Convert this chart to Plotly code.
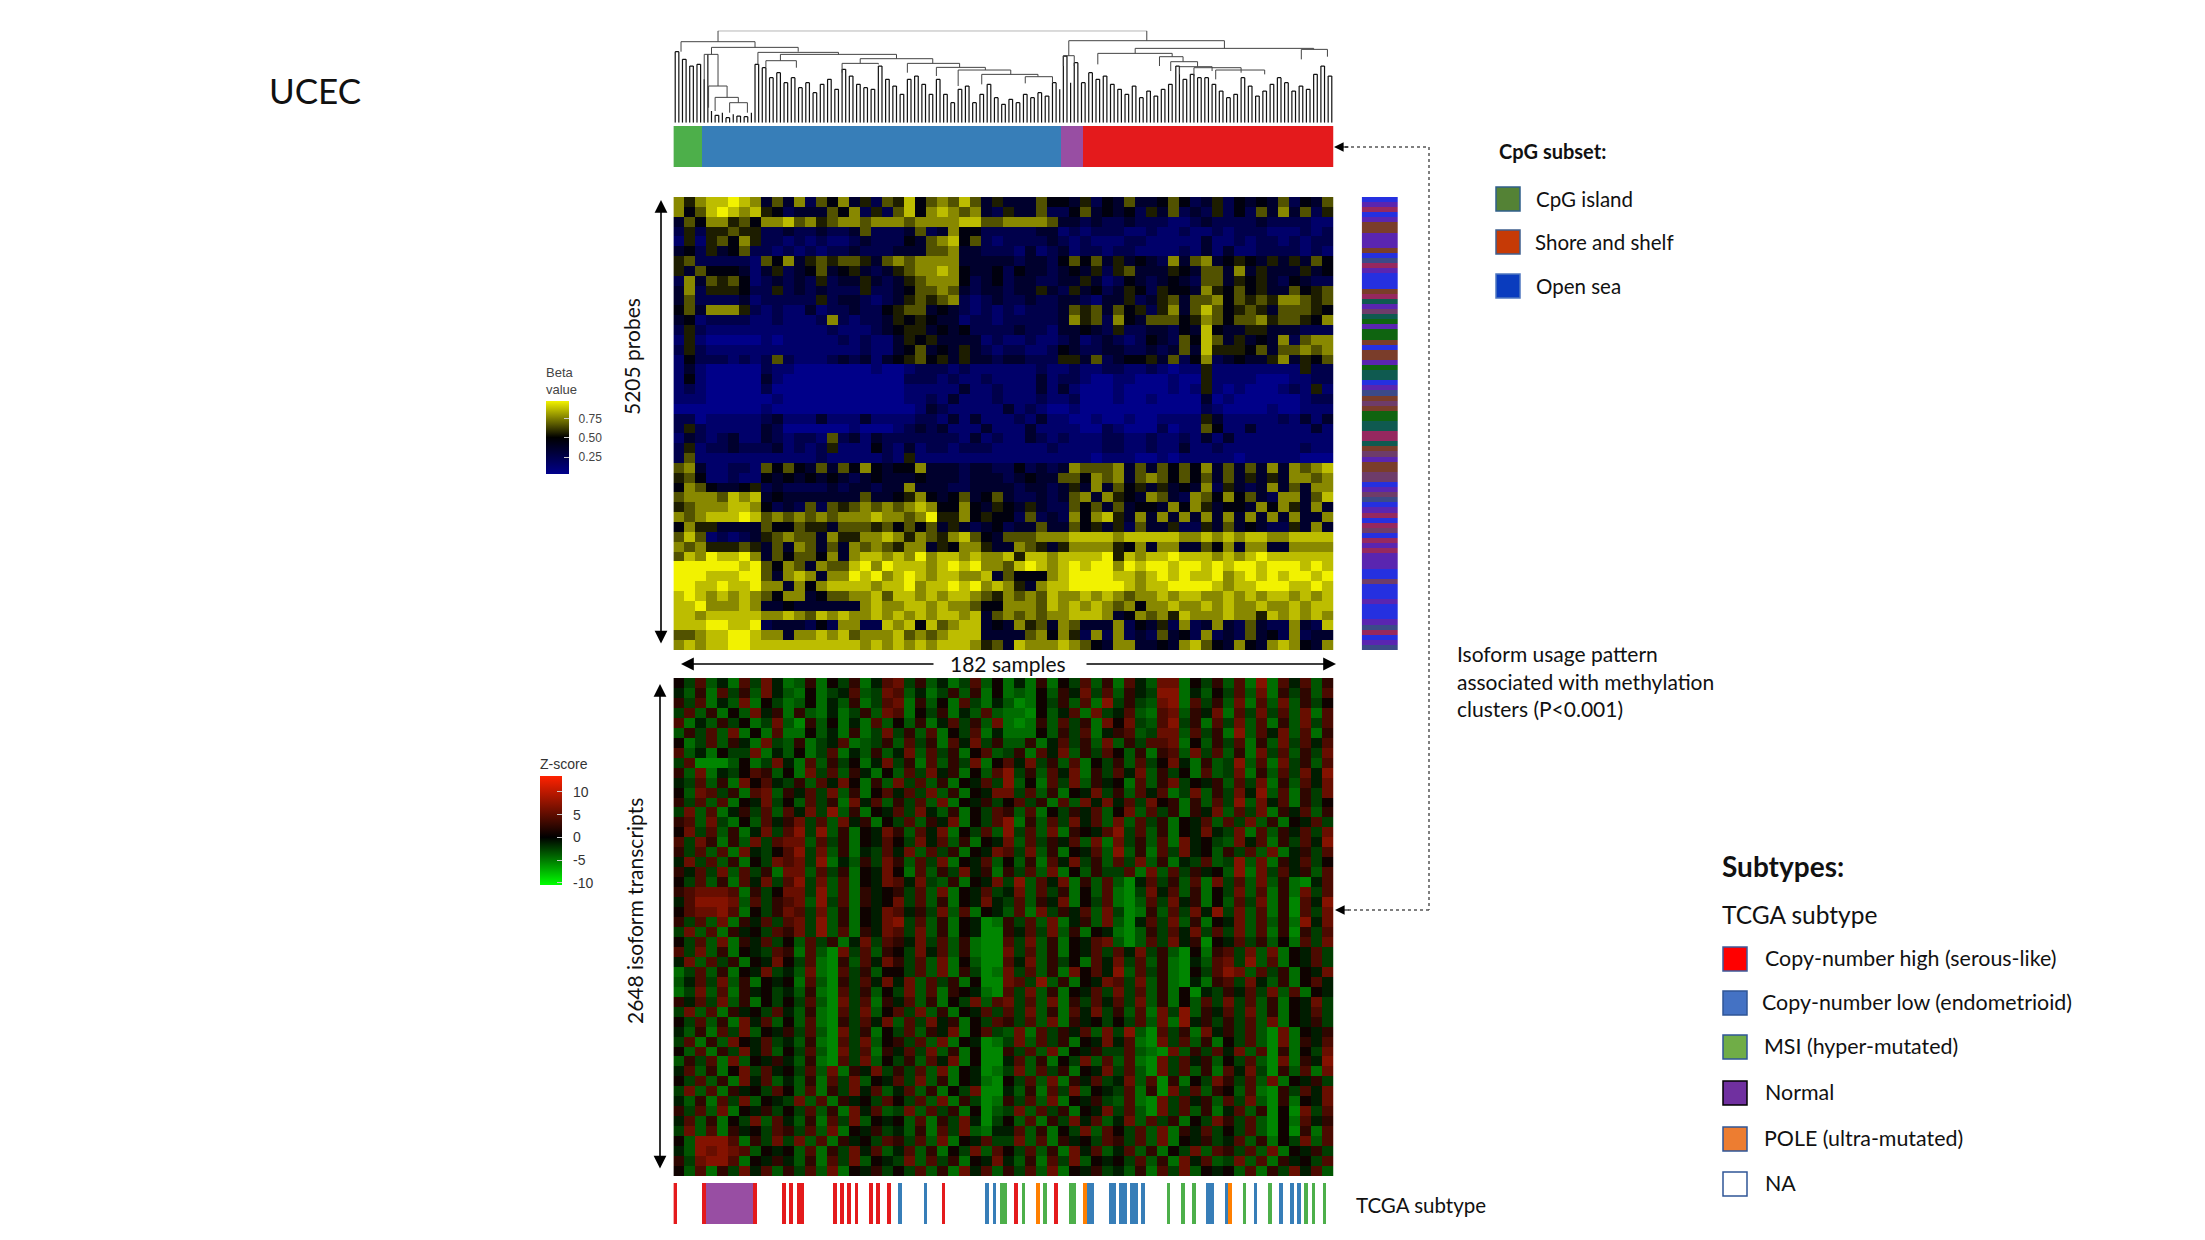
import plotly.graph_objects as go

W, H = 2205, 1240
FONT = "Lato"

# ---------- data ----------
N_SAMPLES = 182
cluster_names = ["green", "blue", "purple", "red"]
cluster_sizes = [8, 99, 6, 69]
cluster_colors = ["#4daf4a", "#377eb8", "#984ea3", "#e41a1c"]

subtype_cnh = [0, 8, 22, 30, 32, 34, 35, 44, 46, 48, 50, 54, 56, 59, 74, 94, 105]
subtype_cnl = [62, 69, 86, 88, 114, 115, 120, 121, 123, 124, 126, 127, 129, 147, 148, 152, 160, 167, 170, 172]
subtype_msi = [90, 91, 96, 102, 109, 110, 136, 140, 143, 157, 164, 174, 176, 179]
subtype_normal = [9, 10, 11, 12, 13, 14, 15, 16, 17, 18, 19, 20, 21]
subtype_pole = [100, 113, 153]

# dendrogram: height of each leaf
leaf_tops = [
    213, 213, 190, 190, 170, 170, 175, 175, 130, 205,
    35, 22, 22, 30, 15, 15, 25, 20, 20, 18, 18, 30,
    175, 175, 165, 165, 135, 135, 150, 150, 120, 120, 135, 135, 105, 105, 120, 120, 90, 90,
    115, 115, 130, 130, 100, 100, 160, 160, 140, 140, 115, 115, 105, 105, 100, 100, 170, 170, 130, 130,
    110, 110, 85, 85, 130, 130, 140, 140, 115, 115, 85, 85, 130, 130, 85, 85, 60, 60, 100, 100,
    110, 110, 60, 60, 85, 85, 115, 115, 75, 75, 55, 55, 70, 70, 60, 60, 85, 85, 75, 75,
    90, 90, 80, 80, 120, 120, 100,
    200, 200, 120, 180, 180, 120, 120, 150, 150, 130, 130, 140, 140, 115, 115, 100, 100, 85, 85,
    110, 110, 75, 75, 95, 95, 80, 80, 100, 100, 115, 115, 170, 170, 130, 130, 145, 145, 135, 135,
    135, 135, 115, 115, 95, 95, 75, 75, 85, 85, 135, 135, 110, 110, 80, 80, 95, 95, 115, 115,
    135, 135, 120, 120, 95, 95, 110, 110, 100, 100, 145, 145, 170, 170, 140, 140, 195, 195, 140,
]
link_left = [11.8, 1.6, 10, 8, 9.2, 11, 15, 22.8, 29, 25, 51, 46, 64, 72, 78, 84.5, 96.5,
             108.5, 107, 126.8, 116.5, 172.6, 133.5, 136.6, 139, 143, 149]
link_right = [130, 22, 33.9, 11.8, 14.3, 17.4, 19.9, 45, 61, 33.4, 71, 56, 78.4, 85.5, 92.5, 100, 104,
              151.4, 110, 176, 137, 179.8, 140, 144, 148, 156, 162.5]
link_height = [276, 243, 226, 205, 110, 76, 60, 211, 205, 186, 192, 178, 178, 166, 158, 145, 138,
               246, 201, 223, 208, 220, 198, 183, 168, 165, 158]
link_left_low = [243, 213, 205, 0, 45, 35, 30, 175, 186, 165, 178, 150, 150, 140, 110, 115, 118,
                 201, 170, 208, 175, 190, 170, 155, 145, 140, 130]
link_right_low = [246, 226, 213, 110, 76, 60, 30, 205, 192, 165, 178, 175, 166, 158, 145, 138, 120,
                  223, 170, 220, 198, 198, 183, 168, 155, 150, 145]

# methylation heatmap, digit = beta level (0 blue .. 4-5 black .. 9 yellow)
beta_rows = [
    "757 88987 3637 2647 3526 5846 7686 3533 3644 3524 3633 4642 3524 3436 2436",
    "746 89878 5423 3364 7252 6847 8767 3253 3622 4634 3425 3623 2524 2637 3625",
    "364 77564 7786 7567 7677 7677 7788 6677 7763 3232 2322 2112 3222 2322 2211",
    "252 55655 2232 2322 3622 2362 3744 2222 2331 2122 2112 1121 1212 2211 1212",
    "151 56475 2212 1211 2322 2436 7846 2122 2232 1211 1221 1111 3112 1221 2122",
    "342 53462 2121 2122 3222 3336 6733 2221 3123 1221 2211 1121 3131 1222 2121",
    "562 22221 6473 5656 6536 7677 7733 3332 3324 6463 5343 2736 7345 4353 5364",
    "536 44431 3523 4634 5323 5677 8743 3424 3323 4352 5633 3543 6637 3533 3534",
    "273 65641 2323 2523 3532 3567 7742 3423 3223 3531 2432 3432 6635 4532 4322",
    "372 55542 2523 2322 2522 3466 7632 3323 3532 5342 3542 5443 7546 4533 6456",
    "362 22231 2222 2523 3212 3565 6721 2322 3223 3213 3523 5636 6746 5657 7656",
    "463 77752 1211 3122 3224 5663 4321 2121 2223 6563 6452 5736 8645 6536 6654",
    "341 22221 1211 1272 1223 5454 3312 2122 2223 7562 7436 6645 7646 6756 6547",
    "252 11111 1111 1121 1123 4553 4342 2223 2213 3432 5223 3243 8433 5533 3222",
    "151 00000 1011 1112 1211 3545 3333 1211 2112 3123 2124 3264 8635 3437 2677",
    "252 11111 1111 1111 1211 3463 4353 2122 1124 3223 3223 2363 8555 4636 6767",
    "142 22121 2621 1123 2313 4564 5353 3233 2225 5362 3445 3624 7234 3357 3546",
    "131 00000 2110 0000 0010 0122 2121 1111 1211 2112 2112 1011 5111 1111 1522",
    "141 00000 3100 0000 0000 0222 1211 2111 1312 2100 1100 0100 5111 1000 1122",
    "121 00000 2000 0000 0000 0111 1131 1211 1313 1000 1000 0101 5101 0001 2151",
    "111 00000 0100 0000 0000 0112 1311 1211 1211 2000 1001 0000 3010 0000 0122",
    "000 00000 1000 0000 0000 0013 2111 1131 2100 1000 0000 0000 2100 0010 0111",
    "220 11111 2311 1311 1311 1122 1313 1112 1311 0010 0100 1111 5311 1112 1313",
    "252 11111 3200 0000 1000 1232 3111 3111 3111 1002 1000 2011 6411 3111 1131",
    "132 12311 3212 2162 3132 2222 2213 1211 3212 1112 2112 1121 3131 1111 1111",
    "251 22322 2312 1251 1142 1312 2122 2111 1121 1112 2112 1131 1211 1111 1211",
    "261 11111 1111 1211 1112 1511 1111 1111 1111 1101 1100 1011 1110 1111 1000",
    "673 11221 6464 3636 4743 4473 3323 3224 2323 7666 7363 6464 7363 6373 7678",
    "564 11211 4343 4343 2343 3343 3323 3323 4336 6476 7367 6464 6363 5353 7767",
    "476 43345 2322 2232 3323 3733 3223 3332 3323 5373 6453 5343 7253 2373 6377",
    "677 76878 3433 3333 3633 4574 3463 4632 2323 6737 5437 6327 6474 6327 7368",
    "567 77887 4232 6265 6767 6787 4474 3543 5322 6463 6344 3747 5344 3747 5373",
    "767 88898 6767 6767 7787 7679 5574 5442 6232 7478 5373 7373 7373 7373 7337",
    "475 53333 6446 5536 6656 4646 3532 3423 3633 6453 5263 3522 5363 4322 5373",
    "686 12123 5676 6375 5778 7576 5786 4366 6777 8888 7888 8877 8787 8877 8888",
    "767 55565 3637 6363 7676 5773 5477 5337 6535 7777 5473 7733 6473 7733 7777",
    "687 98897 3646 6473 7887 8797 8878 7785 8878 8889 5878 8988 8787 8988 8888",
    "999 99989 6476 3766 8979 8887 8989 7768 9878 9899 7989 9899 8989 9899 9898",
    "999 88899 6378 7377 9897 8987 8877 8364 4478 9999 8878 9898 8978 9898 9989",
    "998 89889 7737 4788 8878 8978 8989 7875 3788 9999 9878 8999 9878 8999 8898",
    "898 78787 6477 3466 7786 8878 7887 6576 7687 7878 7677 8788 7787 8788 7878",
    "889 77787 3343 3333 3787 7887 8776 4477 7687 8787 6747 7877 8787 7877 8788",
    "887 88888 7787 6878 7787 8787 8878 3676 7677 8887 3476 7587 7787 7587 8787",
    "888 99889 2333 2427 7228 7848 6788 3437 5637 6333 7243 5272 3732 6322 7328",
    "667 88998 7737 7878 6777 8676 7888 3333 6747 5272 7232 6342 7232 6342 7233",
    "787 88998 8888 8888 8787 8787 8887 5638 7778 7643 7733 4378 6437 4378 7437",
]

# expression heatmap, digit = index into z_levels
z_levels = [-5.5, -4.5, -3.5, -2.5, -1.2, 0.8, 2.5, 4, 5.5, 7]
zscore_rows = [
    "5372417384 1261536147 8362413725 1416153726 1742881536 2719174726",
    "4261736284 2151347238 7241362615 1215264837 2643991425 3728163627",
    "6371428153 1251426137 8162517314 2015362719 3632891736 2817282635",
    "3726152846 1621413628 7153614272 1105247183 4721782648 1738372817",
    "7142635138 2062514172 5261473628 1016273618 5832793617 3827162837",
    "2637281517 1152416138 3627153714 1115263714 6723882736 1927482716",
    "5137264183 2613471236 2736174836 2261473628 2637781526 3716283747",
    "7241533814 2513714262 4827361572 3617482637 5261672837 2618372638",
    "3700025138 4172635148 3617263815 7483627153 6273584162 3927183627",
    "6281435762 5183726415 2738461527 9362748163 7482635172 3816273849",
    "4372618574 3627485162 8372615473 9251738264 5172683546 2738162748",
    "5287361782 6473826157 4738261548 8372615483 6274713826 3849271638",
    "6372715483 5273618472 6372815463 5736172848 4738561627 3928471635",
    "3827146372 7483926154 7384261537 6271536472 5827361648 2738164726",
    "6728315274 6837284615 3726481537 9162738472 8273615472 7382615473",
    "5837261483 7939261548 6274815372 9372816547 9372615484 3817264738",
    "7386162837 8827361547 5384726154 8273647281 8362718453 2847163749",
    "6372718435 7938261437 4827361548 7382615472 9261738452 6372814637",
    "4837261538 7839142638 6273815472 5261748362 7382614372 3928164735",
    "6473827361 8827361548 5172638461 6372815263 3718273645 2918374627",
    "5372617483 7938271548 7483261548 3927481627 2047362718 3728261047",
    "6788871635 8839271645 6372815473 4827361527 1038472615 3827161837",
    "4799982736 7829371645 8372615484 3726481537 1027384615 2738160749",
    "5788971536 8738261548 7463827154 2718364728 3016273849 3827160738",
    "6372816473 7839261548 9372615401 6372814628 2047382615 4827261948",
    "3827164537 6839271648 7382615400 6473826154 1026374837 3827160637",
    "5372816473 5273614837 6483726100 7382615478 2027384605 4736251738",
    "7382615437 6172083726 5384726100 8372615473 7483620516 7382815473",
    "4827361548 5371062748 6372815200 7482635174 8372610427 8392715473",
    "1372615483 4281073625 5372816301 8372618574 9273610537 9827361548",
    "2473826154 5172063748 4827361500 8739261548 7382610416 7384261574",
    "1382716453 4261073625 3827165410 7382615473 8372615043 6473827154",
    "6473826153 5372083716 4726153827 8372816374 7382615273 8372615483",
    "3827164537 4261073825 7382615473 7382617483 6271839264 7382615473",
    "5372618472 5271063748 2738461537 6372816453 5372819463 6372815463",
    "4261738254 6372083615 3726481573 2817364728 3920736184 6372081546",
    "3716285473 4261073825 6372815401 3827361548 4710837261 5372081647",
    "5271638472 5372083716 4738261500 6372815463 3721082637 4827061538",
    "2637182546 4261073825 3627481500 4726153827 2710837462 5372081649",
    "4726158374 5372816483 6372815401 3827361548 3720837261 7483062718",
    "5372618472 4261738254 7382615410 5372816473 4827061538 6372815463",
    "3827164537 5271638472 4726153800 4261738254 3716083726 5271063748",
    "4261738254 3827164537 5372816301 6372815463 2710837462 7382061548",
    "6372815463 5372618472 3827361502 3827361548 3720837261 4726050837",
    "4726153827 4261738254 5271638403 5271638472 4827361538 6372051746",
    "3827164537 6372815463 4261738214 4726153827 5372816473 5372050617",
    "5299971638 3827164537 6372815473 3827164537 6372815463 4726153827",
    "4298987254 5271638472 4726153827 5372618472 4726153827 6372815463",
    "6389971546 4261738254 3827361548 4261738254 5372618472 3827164537",
    "5271638472 6372815463 5372618472 6372815463 4261738254 5271638472",
]

# CpG subset side strip: b blue, p purple, r red-purple, m mauve, n brown, g green, t teal, s slate
cpg_rows = (
    "bprbpnnpppnbsrpbbbnrtpmtgpgg"
    "nbnnpgttbpsnmnggttrrtnmpnnmm"
    "bpmsbprbrmbrprpppbbmbbbpbbbp"
    "srbps"
)
cpg_keys = ["b", "p", "r", "m", "n", "g", "t", "s"]
cpg_colors = ["#2530e0", "#5a25b0", "#96285f", "#6e3c6a", "#7a3d2a", "#0f6410", "#0f5a50", "#3c4a88"]

beta_ticks = [0.25, 0.50, 0.75]
beta_tick_labels = ["0.25", "0.50", "0.75"]
z_ticks = [-10, -5, 0, 5, 10]
z_tick_labels = ["-10", "-5", "0", "5", "10"]

cpg_legend = [("CpG island", "#548235", "#2f5f8a", 187, 1534), ("Shore and shelf", "#c63a06", "#3f5f8f", 230, 1533),
              ("Open sea", "#0a3cbe", "#4f77c0", 274, 1534)]
subtype_legend = [("Copy-number high (serous-like)", "#ff0000", "#3c5a9a", 947, 1763),
                  ("Copy-number low (endometrioid)", "#4472c4", "#2f5597", 991, 1760),
                  ("MSI (hyper-mutated)", "#70ad47", "#2f5597", 1035, 1762),
                  ("Normal", "#7030a0", "#000000", 1081, 1763),
                  ("POLE (ultra-mutated)", "#ed7d31", "#2f5597", 1127, 1762),
                  ("NA", "#ffffff", "#2f5597", 1172, 1763)]


# ---------- helpers ----------
def parse(rows):
    return [[int(c) for c in r.replace(" ", "")] for r in rows]


def px(x):
    return x / W


def py(y):
    return 1 - y / H


def xdom(a, b):
    return [a / W, b / W]


def ydom(top, bottom):
    return [1 - bottom / H, 1 - top / H]


def discrete_scale(colors):
    n = len(colors)
    out = []
    for i, c in enumerate(colors):
        out += [[i / n, c], [(i + 1) / n, c]]
    return out


HX0, HX1 = 673.4, 1333.6
PAD = "\u00a0\u00a0"

fig = go.Figure()
layout_axes = {}


def add_axes(n, xd, yd, xr, yr):
    layout_axes[f"xaxis{n}"] = dict(domain=xd, range=xr, visible=False, anchor=f"y{n}", fixedrange=True)
    layout_axes[f"yaxis{n}"] = dict(domain=yd, range=yr, visible=False, anchor=f"x{n}", fixedrange=True)


# dendrogram
add_axes(1, xdom(HX0, HX1), ydom(30.7, 122.7), [-0.5, N_SAMPLES - 0.5], [0, 276])
lx, ly = [], []
for i, t in enumerate(leaf_tops):
    lx += [i, i, None]
    ly += [0, t, None]
i = 0
while i < len(leaf_tops) - 1:
    if leaf_tops[i] == leaf_tops[i + 1]:
        lx += [i, i + 1, None]
        ly += [leaf_tops[i], leaf_tops[i], None]
        i += 2
    else:
        i += 1
fig.add_trace(go.Scatter(x=lx, y=ly, mode="lines", line=dict(color="#111111", width=1.2), xaxis="x1", yaxis="y1",
                         hoverinfo="skip"))
ux, uy = [], []
for l, r, h, a, b in zip(link_left, link_right, link_height, link_left_low, link_right_low):
    ux += [l, l, r, r, None]
    uy += [a, h, h, b, None]
fig.add_trace(go.Scatter(x=ux, y=uy, mode="lines", line=dict(color="#444444", width=1), xaxis="x1", yaxis="y1",
                         hoverinfo="skip"))

# cluster bar
cluster_ids = []
for k, s in enumerate(cluster_sizes):
    cluster_ids += [k] * s
add_axes(2, xdom(HX0, HX1), ydom(126, 167), [-0.5, N_SAMPLES - 0.5], [-0.5, 0.5])
fig.add_trace(go.Heatmap(z=[cluster_ids], xaxis="x2", yaxis="y2", zmin=0, zmax=len(cluster_colors),
                         colorscale=discrete_scale(cluster_colors), showscale=False, hoverinfo="skip",
                         x0=0, dx=1, y0=0, dy=1))

# methylation heatmap
beta = parse(beta_rows)
beta_vals = [[0.04 + 0.94 * v / 9 for v in row] for row in beta]
add_axes(3, xdom(HX0, HX1), ydom(197, 650), [-0.5, len(beta[0]) - 0.5], [len(beta) - 0.5, -0.5])
fig.add_trace(go.Heatmap(
    z=beta_vals, xaxis="x3", yaxis="y3", zmin=0.03, zmax=0.98, hoverinfo="skip",
    colorscale=[[0, "#00008c"], [0.5, "#000000"], [1, "#f2f200"]],
    colorbar=dict(xanchor="left", x=px(546), yanchor="top", y=py(364), len=110, lenmode="pixels", thickness=23,
                  thicknessmode="pixels", tickvals=beta_ticks, ticktext=[PAD + t for t in beta_tick_labels],
                  ticks="inside", ticklen=5, tickcolor="#cccccc", outlinewidth=0, xpad=0, ypad=0,
                  tickfont=dict(family="Liberation Sans", size=12, color="#444444"),
                  title=dict(text="Beta<br>value", side="top",
                             font=dict(family="Liberation Sans", size=13, color="#444444")))))

# CpG strip
cpg_ids = [[cpg_keys.index(c)] for c in cpg_rows]
add_axes(4, xdom(1361.7, 1398), ydom(197, 650), [-0.5, 0.5], [len(cpg_ids) - 0.5, -0.5])
fig.add_trace(go.Heatmap(z=cpg_ids, xaxis="x4", yaxis="y4", zmin=0, zmax=len(cpg_colors),
                         colorscale=discrete_scale(cpg_colors), showscale=False, hoverinfo="skip"))

# expression heatmap
zs = parse(zscore_rows)
z_vals = [[z_levels[v] for v in row] for row in zs]
add_axes(5, xdom(HX0, HX1), ydom(678, 1176), [-0.5, len(zs[0]) - 0.5], [len(zs) - 0.5, -0.5])
fig.add_trace(go.Heatmap(
    z=z_vals, xaxis="x5", yaxis="y5", zmin=-10.5, zmax=13.5, hoverinfo="skip",
    colorscale=[[0, "#00ff00"], [0.4375, "#000000"], [1, "#ff2200"]],
    colorbar=dict(xanchor="left", x=px(540), yanchor="top", y=py(755), len=130, lenmode="pixels", thickness=22,
                  thicknessmode="pixels", tickvals=z_ticks, ticktext=[PAD + t for t in z_tick_labels],
                  ticks="inside", ticklen=5, tickcolor="#cccccc", outlinewidth=0, xpad=0, ypad=0,
                  tickfont=dict(family="Liberation Sans", size=14, color="#333333"),
                  title=dict(text="Z-score", side="top",
                             font=dict(family="Liberation Sans", size=14, color="#333333")))))

# TCGA subtype bar
tcga = [5] * N_SAMPLES
for k, samples in enumerate([subtype_msi, subtype_cnl, subtype_normal, subtype_cnh, subtype_pole]):
    for s in samples:
        tcga[s] = k
tcga_colors = ["#4daf4a", "#377eb8", "#984ea3", "#e41a1c", "#ff7f00", "#ffffff"]
add_axes(6, xdom(HX0, HX1), ydom(1183, 1224), [-0.5, N_SAMPLES - 0.5], [-0.5, 0.5])
fig.add_trace(go.Heatmap(z=[tcga], xaxis="x6", yaxis="y6", zmin=0, zmax=6, colorscale=discrete_scale(tcga_colors),
                         showscale=False, hoverinfo="skip", x0=0, dx=1, y0=0, dy=1))

# ---------- text, swatches, arrows ----------
annotations = []


def text(s, x, y, size, bold=False, angle=0, anchor="left", color="#111111", family=FONT):
    annotations.append(dict(text=f"<b>{s}</b>" if bold else s, x=px(x), y=py(y), xref="paper", yref="paper",
                            xanchor=anchor, yanchor="middle", showarrow=False, textangle=angle,
                            font=dict(family=family, size=size, color=color)))


def arrow(x0, y0, x1, y1, both=True, color="#000000", width=1.6):
    annotations.append(dict(x=px(x1), y=py(y1), ax=x0 - x1, ay=y0 - y1, xref="paper", yref="paper", axref="pixel",
                            ayref="pixel", text="", showarrow=True, arrowhead=2, arrowsize=1.6, arrowwidth=width,
                            arrowcolor=color, arrowside="end+start" if both else "end"))


text("UCEC", 267, 90, 35)
text("5205 probes", 632, 357, 21, angle=-90, anchor="center")
text("2648 isoform transcripts", 635, 911, 21, angle=-90, anchor="center")
text("182 samples", 1008, 663, 21, anchor="center")
text("CpG subset:", 1497, 151, 20, bold=True)
text("Isoform usage pattern", 1455, 653, 21)
text("associated with methylation", 1455, 681, 21)
text("clusters (P&lt;0.001)", 1455, 708, 21)
text("Subtypes:", 1720, 866, 28, bold=True)
text("TCGA subtype", 1720, 914, 24.5)
text("TCGA subtype", 1354, 1205, 20.5)

shapes = []
for label, fill, border, top, tx in cpg_legend:
    shapes.append(dict(type="rect", xref="paper", yref="paper", x0=px(1496), x1=px(1520), y0=py(top), y1=py(top + 24),
                       fillcolor=fill, line=dict(color=border, width=1.5)))
    text(label, tx, top + 12, 20.5)
for label, fill, border, top, tx in subtype_legend:
    shapes.append(dict(type="rect", xref="paper", yref="paper", x0=px(1723), x1=px(1747), y0=py(top), y1=py(top + 24),
                       fillcolor=fill, line=dict(color=border, width=1.5)))
    text(label, tx, top + 11, 21.4)

arrow(661, 645, 661, 200)
arrow(660, 1170, 660, 684)
arrow(935, 664, 681, 664, both=False)
arrow(1085, 664, 1336, 664, both=False)

for x0, y0, x1, y1 in [(1345, 147, 1429, 147), (1429, 147, 1429, 910), (1429, 910, 1345, 910)]:
    shapes.append(dict(type="line", xref="paper", yref="paper", x0=px(x0), y0=py(y0), x1=px(x1), y1=py(y1),
                       line=dict(color="#555555", width=1.5, dash="dot")))
arrow(1350, 147, 1334, 147, both=False, width=1.2)
arrow(1350, 910, 1335, 910, both=False, width=1.2)

fig.update_layout(width=W, height=H, margin=dict(l=0, r=0, t=0, b=0, pad=0), paper_bgcolor="white",
                  plot_bgcolor="white", showlegend=False, annotations=annotations, shapes=shapes, **layout_axes)

fig.write_html("out.html", config=dict(displayModeBar=False),
               post_script="document.body.style.margin='0';document.documentElement.style.overflow='hidden';")
